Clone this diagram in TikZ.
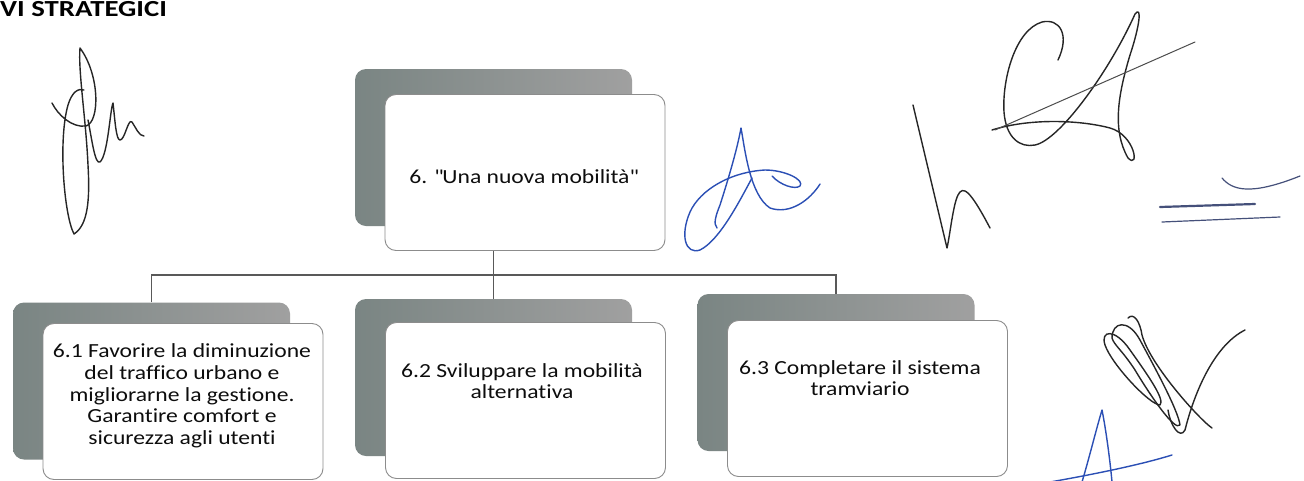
\documentclass[tikz,border=0pt]{standalone}
\usepackage{fontspec}
\setmainfont{Carlito}[FakeStretch=1.18, Ligatures={NoCommon,NoRequired,NoContextual,NoDiscretionary}]
\newfontfamily\hdrfont{Carlito}[FakeStretch=1.25]
\begin{document}
\begin{tikzpicture}[x=1pt,y=-1pt,
  shadowbox/.style={rectangle, rounded corners=11pt, minimum width=277pt, minimum height=157pt, inner sep=0pt, left color=sdark, right color=slight, draw=none},
  whitebox/.style={rectangle, rounded corners=11pt, minimum width=280pt, minimum height=156pt, inner sep=0pt, fill=white, draw=black!45, line width=0.9pt},
  boxtext/.style={font=\fontsize{20}{21.7}\selectfont, align=center, inner sep=0pt, text=black!95},
  conn/.style={draw=black!65, line width=1.1pt},
  sigk/.style={draw=black!85, line width=1.4pt, line cap=round, line join=round},
  sigb/.style={draw=sblue, line width=1.4pt, line cap=round, line join=round},
  sigg/.style={draw=sgrey, line cap=round, line join=round}]
\definecolor{sdark}{HTML}{7A8583}
\definecolor{slight}{HTML}{A0A0A0}
\definecolor{sblue}{HTML}{2B4FB5}
\definecolor{sgrey}{HTML}{45507A}
\useasboundingbox (0,0) rectangle (1304,480);
\fill[white] (0,0) rectangle (1304,480);

% header
\node[anchor=base west, inner sep=0pt, font=\hdrfont\fontsize{23}{25}\selectfont\bfseries, text=black] (hdr) at (0,16.5) {VI STRATEGICI};

% shadow boxes
\node[shadowbox] (topsh) at (493.5,147.5) {};
\node[shadowbox] (leftsh) at (151.5,381) {};
\node[shadowbox] (midsh) at (493.5,377.5) {};
\node[shadowbox] (rightsh) at (836,372.5) {};

% connectors
\coordinate (bus) at (493.5,275);
\draw[conn] (topsh.south) -- (midsh.north);
\draw[conn] (leftsh.north) |- (bus) -| (rightsh.north);

% white boxes
\node[whitebox] (top) at (525,172.5) {};
\node[whitebox] (left) at (183,401.5) {};
\node[whitebox] (mid) at (525.5,400.5) {};
\node[whitebox] (right) at (867.5,398.5) {};

% texts
\node[boxtext] (toptxt) at (523.5,177) {6. \textquotedbl Una nuova mobilità\textquotedbl};
\node[boxtext] (lefttxt) at (182,396) {6.1 Favorire la diminuzione\\del traffico urbano e\\migliorarne la gestione.\\Garantire comfort e\\sicurezza agli utenti};
\node[boxtext] (midtxt) at (522,381) {6.2 Sviluppare la mobilità\\alternativa};
\node[boxtext] (righttxt) at (860,378) {6.3 Completare il sistema\\tramviario};

% signature 1 (left, black)
\draw[sigk] (52,103) .. controls (58,115) and (72,128) .. (86,126)
  .. controls (100,122) and (100,75) .. (80,48)
  .. controls (78,70) and (86,120) .. (88,165)
  .. controls (90,200) and (88,225) .. (74,234)
  .. controls (64,215) and (58,140) .. (68,105)
  .. controls (72,92) and (78,88) .. (84,90);
\draw[sigk] (88,120) .. controls (92,140) and (95,165) .. (100,162)
  .. controls (108,155) and (110,110) .. (113,103)
  .. controls (115,120) and (116,140) .. (120,140)
  .. controls (125,140) and (128,118) .. (132,122)
  .. controls (136,128) and (139,136) .. (144,136);

% signature 2 (blue, centre)
\draw[sigb] (717,228) .. controls (713,224) and (716,215) .. (720,205)
  .. controls (728,180) and (737,150) .. (741,128)
  .. controls (745,150) and (750,195) .. (770,208)
  .. controls (790,215) and (810,200) .. (820,184);
\draw[sigb] (752,178) .. controls (740,200) and (720,240) .. (700,250)
  .. controls (685,255) and (680,235) .. (690,212)
  .. controls (700,190) and (730,172) .. (765,170)
  .. controls (785,170) and (805,180) .. (800,186)
  .. controls (795,190) and (780,185) .. (772,176);

% signature 3 (black, right)
\draw[sigk] (913,105) -- (947,248)
  .. controls (950,235) and (953,205) .. (958,195)
  .. controls (963,185) and (970,190) .. (990,228);
\draw[sigk] (1058,60) .. controls (1070,35) and (1060,18) .. (1042,22)
  .. controls (1015,30) and (1002,80) .. (1004,112)
  .. controls (1006,138) and (1020,148) .. (1035,145)
  .. controls (1060,140) and (1110,70) .. (1135,14)
  .. controls (1142,5) and (1140,25) .. (1130,55)
  .. controls (1118,95) and (1112,130) .. (1128,158)
  .. controls (1140,170) and (1135,135) .. (1110,128)
  .. controls (1080,120) and (1030,118) .. (992,130);
\draw[black!70, line width=1pt, line cap=round] (995,130) -- (1195,42);

% signature 4 (double line)
\draw[sigg, line width=2.2pt] (1160,207) -- (1255,204);
\draw[sigg, line width=1.2pt] (1162,222) -- (1280,217);
\draw[sigg, line width=1.2pt] (1222,178) .. controls (1232,190) and (1250,196) .. (1300,176);

% signature 5 (black scribble, bottom right)
\draw[sigk] (1105,345) .. controls (1100,330) and (1115,328) .. (1130,350)
  .. controls (1150,378) and (1165,400) .. (1160,405)
  .. controls (1150,405) and (1112,365) .. (1105,345);
\draw[sigk] (1112,338) .. controls (1112,322) and (1128,318) .. (1140,340)
  .. controls (1155,368) and (1178,410) .. (1180,425)
  .. controls (1175,432) and (1150,395) .. (1135,370)
  .. controls (1122,350) and (1114,345) .. (1112,338);
\draw[sigk] (1128,318) .. controls (1134,312) and (1140,322) .. (1142,335)
  .. controls (1150,365) and (1200,420) .. (1212,428);
\draw[sigk] (1245,330) .. controls (1215,345) and (1195,390) .. (1185,430)
  .. controls (1180,440) and (1170,425) .. (1168,410);

% signature 6 (blue A)
\draw[sigb] (1082,482) .. controls (1090,455) and (1096,430) .. (1102,410)
  .. controls (1106,430) and (1110,460) .. (1112,482);
\draw[sigb] (1050,482) .. controls (1090,475) and (1140,465) .. (1172,455);
\end{tikzpicture}
\end{document}
